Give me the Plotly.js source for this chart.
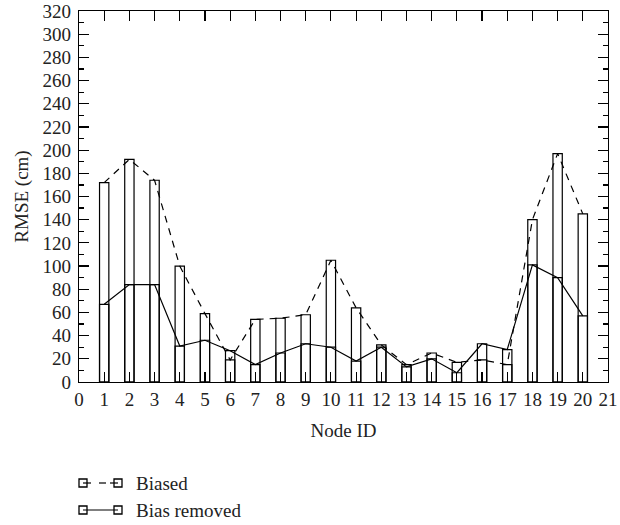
<!DOCTYPE html>
<html>
<head>
<meta charset="utf-8">
<script src="https://cdn.plot.ly/plotly-3.0.1.min.js"></script>
<style>html,body{margin:0;padding:0;background:#fff;}#chart{width:620px;height:525px;}</style>
</head>
<body>
<div id="chart"></div>
<script>
const nodeIds = [1,2,3,4,5,6,7,8,9,10,11,12,13,14,15,16,17,18,19,20];
const biased = [172,192,174,100,59,19,54,55,58,105,64,32,15,25,17,19,15,140,197,145];
const biasRemoved = [67,84,84,31,36,27,15,25,33,30,18,30,13,20,8,33,28,101,90,57];
const seriesNames = ['Biased', 'Bias removed'];
const xTicks = [0,1,2,3,4,5,6,7,8,9,10,11,12,13,14,15,16,17,18,19,20,21];

const FONT = 'Liberation Serif, Times New Roman, serif';
const TXT = '#222';
const L = 79, R = 12, T = 11, B = 143, W = 620, H = 525;
const pw = W - L - R, ph = H - T - B;
const px = x => (x - L) / pw;
const py = y => (H - B - y) / ph;

const barStyle = {color: 'rgba(0,0,0,0)', line: {color: '#000', width: 1.2}};
const traces = [
  {type: 'bar', x: nodeIds, y: biased, width: 0.37, marker: barStyle, showlegend: false, hoverinfo: 'skip'},
  {type: 'bar', x: nodeIds, y: biasRemoved, width: 0.37, marker: barStyle, showlegend: false, hoverinfo: 'skip'},
  {type: 'scatter', mode: 'lines', x: nodeIds, y: biased, name: seriesNames[0],
   line: {color: '#000', width: 1.2, dash: '7px,6px'}, showlegend: false},
  {type: 'scatter', mode: 'lines', x: nodeIds, y: biasRemoved, name: seriesNames[1],
   line: {color: '#000', width: 1.2}, showlegend: false}
];

// manual legend glyphs (styling only)
const shapes = [];
const annotations = [];
const rows = [{y: 483, dashed: true}, {y: 510, dashed: false}];
const c1 = 83, c2 = 118, s = 4;
function seg(x0, x1, y, w) {
  shapes.push({type: 'line', xref: 'paper', yref: 'paper',
    x0: px(x0), x1: px(x1), y0: py(y), y1: py(y), line: {color: '#000', width: w || 1.2}});
}
rows.forEach((r, i) => {
  [c1, c2].forEach(cx => {
    shapes.push({type: 'rect', xref: 'paper', yref: 'paper',
      x0: px(cx - s), x1: px(cx + s), y0: py(r.y + s), y1: py(r.y - s),
      line: {color: '#000', width: 1.3}, fillcolor: 'rgba(0,0,0,0)'});
  });
  if (r.dashed) {
    seg(c1, c1 + 8, r.y);
    seg(99, 106, r.y);
    seg(c2 - 8, c2, r.y);
  } else {
    seg(c1, c2, r.y);
  }
  annotations.push({xref: 'paper', yref: 'paper', x: px(134), y: py(r.y),
    xanchor: 'left', yanchor: 'middle', showarrow: false, text: seriesNames[i],
    font: {family: FONT, size: 19, color: TXT}});
});

const layout = {
  width: W, height: H,
  margin: {l: L, r: R, t: T, b: B},
  paper_bgcolor: '#fff', plot_bgcolor: '#fff',
  barmode: 'overlay',
  showlegend: false,
  font: {family: FONT, size: 19, color: TXT},
  xaxis: {
    range: [0, 21], tickvals: xTicks, ticktext: xTicks.map(String),
    ticks: 'inside', ticklen: 10, tickwidth: 1.2, tickcolor: '#000',
    showline: true, linecolor: '#000', linewidth: 1.2, mirror: 'ticks',
    showgrid: false, zeroline: false,
    tickfont: {family: FONT, size: 19, color: TXT},
    title: {text: 'Node ID', font: {family: FONT, size: 19, color: TXT}, standoff: 14}
  },
  yaxis: {
    range: [0, 320], dtick: 20, tick0: 0,
    ticks: 'inside', ticklen: 10, tickwidth: 1.2, tickcolor: '#000',
    ticklabelstandoff: 3,
    minor: {dtick: 10, ticks: 'inside', ticklen: 5, tickwidth: 1.2, tickcolor: '#000', showgrid: false},
    showline: true, linecolor: '#000', linewidth: 1.2, mirror: 'ticks',
    showgrid: false, zeroline: false,
    tickfont: {family: FONT, size: 19, color: TXT},
    title: {text: 'RMSE (cm)', font: {family: FONT, size: 19, color: TXT}, standoff: 8}
  },
  shapes: shapes,
  annotations: annotations
};

Plotly.newPlot('chart', traces, layout, {displayModeBar: false, staticPlot: true});
</script>
</body>
</html>
